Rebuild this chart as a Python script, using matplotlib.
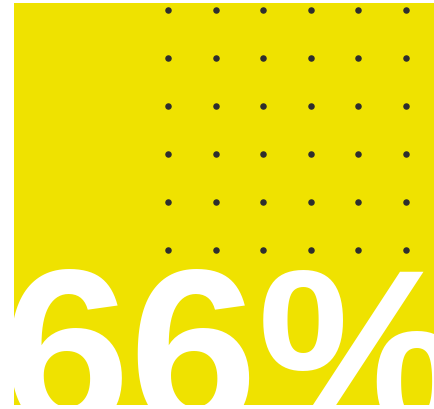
import matplotlib
matplotlib.use("Agg")
import matplotlib.pyplot as plt
from matplotlib.patches import Rectangle
import numpy as np

# ── Data ────────────────────────────────────────────────────────────────────
dot_cols = [168, 216, 263, 311, 358, 406]   # dot grid column centres (px)
dot_rows = [10, 58, 106, 154, 202, 250]     # dot grid row centres (px)
big_label = "66%"

YELLOW = "#efe200"
DOT = "#2e2e2e"

fig = plt.figure(figsize=(4.35, 4.09), dpi=100)
ax = fig.add_axes([0, 0, 1, 1])
ax.set_xlim(0, 435)
ax.set_ylim(409, 0)
ax.axis("off")

# yellow panel
panel = Rectangle((14, 3), 421, 402, facecolor=YELLOW, edgecolor="none", zorder=0)
ax.add_patch(panel)

# dot grid
gx, gy = np.meshgrid(dot_cols, dot_rows)
ax.scatter(gx.ravel(), gy.ravel(), s=22, color=DOT, zorder=2, linewidths=0)

# big number, clipped to the panel
txt = ax.text(2, 430, big_label, fontsize=166, fontweight="bold",
              family=["Liberation Sans", "DejaVu Sans"], color="white",
              ha="left", va="baseline", zorder=3)
txt.set_clip_path(panel)

fig.savefig("out.png", dpi=100, facecolor="white")
